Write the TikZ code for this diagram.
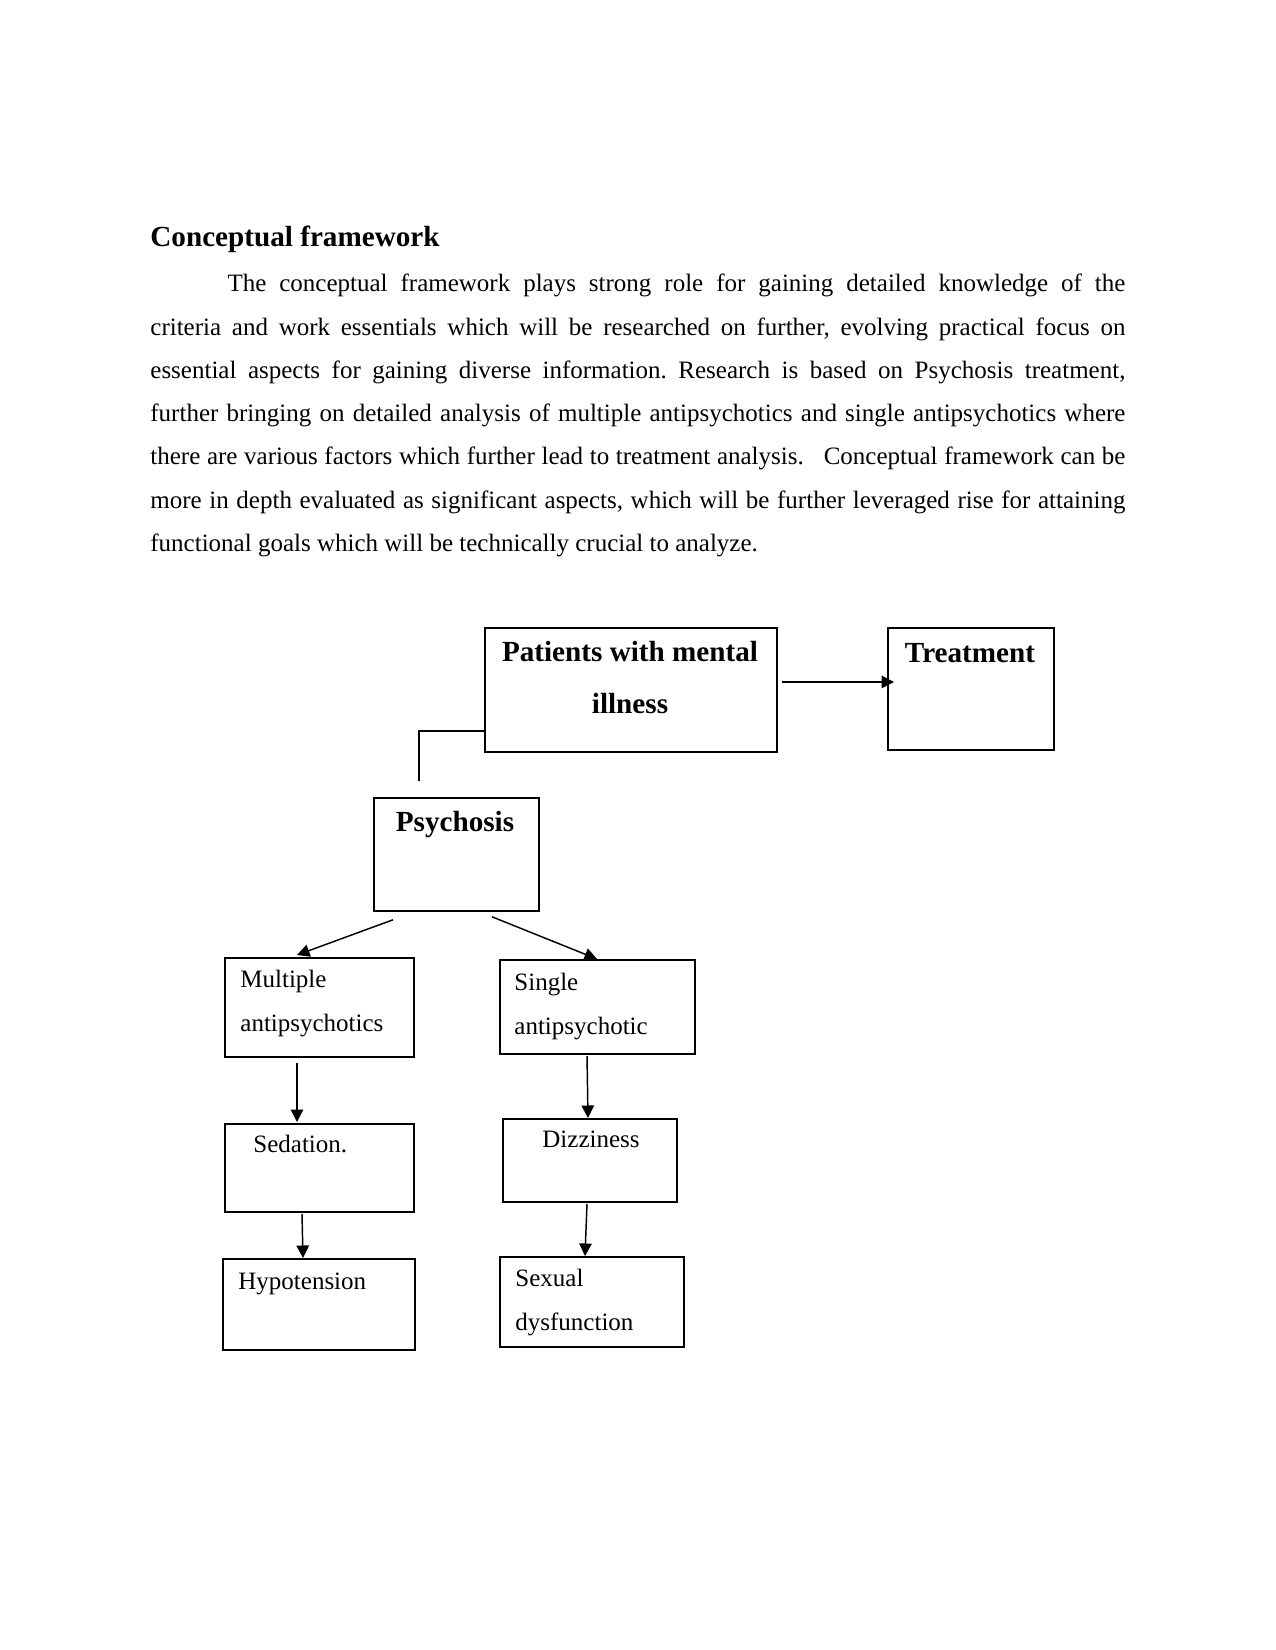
\documentclass[tikz,border=0pt]{standalone}
\usepackage{fontspec}
\setmainfont{Liberation Serif}
\usetikzlibrary{arrows.meta, positioning}
\tikzset{
  box/.style={rectangle, draw=black, line width=0.9pt, inner sep=0pt,
              anchor=north west},
  head/.style={font=\fontsize{14}{24.5}\selectfont\bfseries, inner sep=0pt,
               align=center, anchor=base},
  label/.style={font=\fontsize{12}{20.8}\selectfont, inner sep=0pt,
                align=left, anchor=base west},
  para/.style={font=\fontsize{12}{20.75}\selectfont, inner sep=0pt,
               text width=468pt, align=justify, anchor=base west},
  arrow/.style={-{Triangle[length=6pt, width=6pt]}, line width=0.7pt},
  link/.style={line width=0.9pt},
}
\frenchspacing
\begin{document}
\begin{tikzpicture}[x=0.48pt, y=-0.48pt]
  \fill[white] (0,0) rectangle (1275,1650);
  \useasboundingbox (0,0) rectangle (1275,1650);

  % page text
  \node[anchor=base west, inner sep=0pt, font=\fontsize{14}{16}\selectfont\bfseries]
    (title) at (150,247) {Conceptual framework};
  \node[para] (body) at (150,292)
    {\hyphenpenalty=10000\tolerance=9999\hspace*{37pt}The conceptual framework plays strong role for gaining detailed knowledge of the\linebreak
     criteria and work essentials which will be researched on further, evolving practical focus on\linebreak
     essential aspects for gaining diverse information. Research is based on Psychosis treatment,\linebreak
     further bringing on detailed analysis of multiple antipsychotics and single antipsychotics where\linebreak
     there are various factors which further lead to treatment analysis.~~~Conceptual framework can be\linebreak
     more in depth evaluated as significant aspects, which will be further leveraged rise for attaining\linebreak
     functional goals which will be technically crucial to analyze.};

  % boxes
  \node[box, minimum width=140.2pt, minimum height=59.5pt] (patients) at (484,627) {};
  \node[box, minimum width=79.7pt, minimum height=58.6pt] (treatment) at (887,627) {};
  \node[box, minimum width=79.2pt, minimum height=54.2pt] (psychosis) at (373,797) {};
  \node[box, minimum width=90.7pt, minimum height=47.5pt] (multiple) at (224,957) {};
  \node[box, minimum width=93.6pt, minimum height=45.1pt] (single) at (499,959) {};
  \node[box, minimum width=90.7pt, minimum height=42.2pt] (sedation) at (224,1123) {};
  \node[box, minimum width=83.5pt, minimum height=39.8pt] (dizziness) at (502,1118) {};
  \node[box, minimum width=92.2pt, minimum height=43.7pt] (hypotension) at (222,1258) {};
  \node[box, minimum width=88.3pt, minimum height=43.2pt] (sexual) at (499,1256) {};

  % box texts (multi-line nodes sit on their last line)
  \node[head] (patientsT) at (630,713) {Patients with mental\\illness};
  \node[head] (treatmentT) at (970,662) {Treatment};
  \node[head] (psychosisT) at (455,831) {Psychosis};
  \node[label] (multipleT) at (240,1031) {Multiple\\antipsychotics};
  \node[label] (singleT) at (514,1034) {Single\\antipsychotic};
  \node[label] (sedationT) at (253,1152) {Sedation.};
  \node[label] (dizzinessT) at (542,1147) {Dizziness};
  \node[label] (hypotensionT) at (238,1289) {Hypotension};
  \node[label] (sexualT) at (515,1330) {Sexual\\dysfunction};

  % connectors
  \draw[arrow] ([shift={(4,55)}]patients.north east) -- ([shift={(7,55)}]treatment.north west);
  \draw[link] ([shift={(0,104)}]patients.north west) -| ([shift={(46,-16)}]psychosis.north west);
  \draw[arrow] ([shift={(20,8)}]psychosis.south west) -- ([shift={(73,-2)}]multiple.north west);
  \draw[arrow] ([shift={(119,5)}]psychosis.south west) -- ([shift={(98,0)}]single.north west);
  \draw[arrow] ([shift={(73,5)}]multiple.south west) -- ([shift={(73,-1)}]sedation.north west);
  \draw[arrow] ([shift={(78,1)}]sedation.south west) -- ([shift={(81,0)}]hypotension.north west);
  \draw[arrow] ([shift={(88,1)}]single.south west) -- ([shift={(86,0)}]dizziness.north west);
  \draw[arrow] ([shift={(85,1)}]dizziness.south west) -- ([shift={(86,0)}]sexual.north west);
\end{tikzpicture}
\end{document}
